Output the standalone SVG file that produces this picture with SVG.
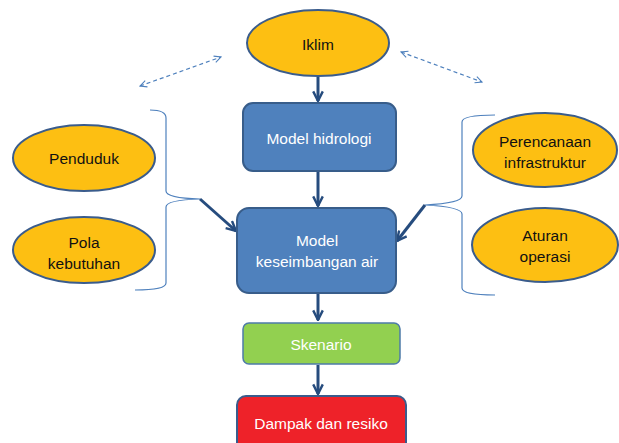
<svg xmlns="http://www.w3.org/2000/svg" width="619" height="443" viewBox="0 0 619 443">
<style>
.ell{fill:#FDBF12;stroke:#3A5C8C;stroke-width:2}
.box{fill:#4F81BD;stroke:#385D8A;stroke-width:2}
.lt{font-family:"Liberation Sans",Arial,sans-serif;font-size:15.5px;fill:#111;text-anchor:middle;dominant-baseline:central}
.wt{font-family:"Liberation Sans",Arial,sans-serif;font-size:15.5px;fill:#fff;text-anchor:middle;dominant-baseline:central}
.arr{stroke:#264C7E;stroke-width:3;fill:none;marker-end:url(#ah)}
.brace{stroke:#4F81BD;stroke-width:1.2;fill:none}
.dash{stroke:#4F81BD;stroke-width:1.2;fill:none;stroke-dasharray:4 3;marker-start:url(#dh);marker-end:url(#dh)}
</style>
<defs>
<marker id="ah" viewBox="0 0 10 10" refX="9" refY="5" markerWidth="4" markerHeight="4" orient="auto" markerUnits="strokeWidth">
<polyline points="1,1 9,5 1,9" fill="none" stroke="#264C7E" stroke-width="2"/>
</marker>
<marker id="dh" viewBox="0 0 10 10" refX="9" refY="5" markerWidth="7" markerHeight="7" orient="auto-start-reverse" markerUnits="strokeWidth">
<polyline points="1,1 9,5 1,9" fill="none" stroke="#4F81BD" stroke-width="1.3"/>
</marker>
</defs>
<g id="connectors">
<line class="dash" x1="140" y1="86" x2="221" y2="57"/>
<line class="dash" x1="401" y1="52" x2="482" y2="82"/>
<path class="brace" d="M150,110 Q166,110 166,118 L166,191 Q166,198 200,199 Q166,200 166,207 L166,283 Q166,290 135,290"/>
<path class="brace" d="M495,115 Q462,115 462,122 L462,196 Q462,203 425,205 Q462,207 462,214 L462,288 Q462,295 495,295"/>
<line class="arr" x1="318" y1="77" x2="318" y2="101"/>
<line class="arr" x1="318" y1="171" x2="318" y2="206"/>
<line class="arr" x1="318" y1="293" x2="318" y2="320"/>
<line class="arr" x1="318" y1="365" x2="318" y2="394"/>
<line class="arr" x1="200" y1="199" x2="236" y2="231"/>
<line class="arr" x1="425" y1="205" x2="397" y2="241"/>
</g>
<g id="iklim"><ellipse class="ell" cx="318" cy="43" rx="71" ry="33"/><text class="lt" x="318" y="44">Iklim</text></g>
<g id="penduduk"><ellipse class="ell" cx="84" cy="158" rx="71" ry="33"/><text class="lt" x="84" y="158">Penduduk</text></g>
<g id="pola"><ellipse class="ell" cx="84" cy="250" rx="71" ry="33"/><text class="lt" x="84" y="242">Pola</text><text class="lt" x="84" y="263">kebutuhan</text></g>
<g id="perencanaan"><ellipse class="ell" cx="545" cy="150" rx="72" ry="37"/><text class="lt" x="545" y="141">Perencanaan</text><text class="lt" x="545" y="162">infrastruktur</text></g>
<g id="aturan"><ellipse class="ell" cx="545" cy="245" rx="73" ry="37"/><text class="lt" x="545" y="235">Aturan</text><text class="lt" x="545" y="256">operasi</text></g>
<g id="hidrologi"><rect class="box" x="243" y="103" width="153" height="68" rx="10"/><text class="wt" x="319" y="138">Model hidrologi</text></g>
<g id="keseimbangan"><rect class="box" x="237" y="208" width="159" height="85" rx="12"/><text class="wt" x="317" y="240">Model</text><text class="wt" x="317" y="261">keseimbangan air</text></g>
<g id="skenario"><rect x="243" y="323" width="157" height="41" rx="6" fill="#92D050" stroke="#4E7BA8" stroke-width="1.5"/><text class="wt" x="321" y="344">Skenario</text></g>
<g id="dampak"><rect x="237" y="396" width="169" height="60" rx="9" fill="#EE2229" stroke="#3A5C8C" stroke-width="2"/><text class="wt" x="321" y="423">Dampak dan resiko</text></g>
</svg>
